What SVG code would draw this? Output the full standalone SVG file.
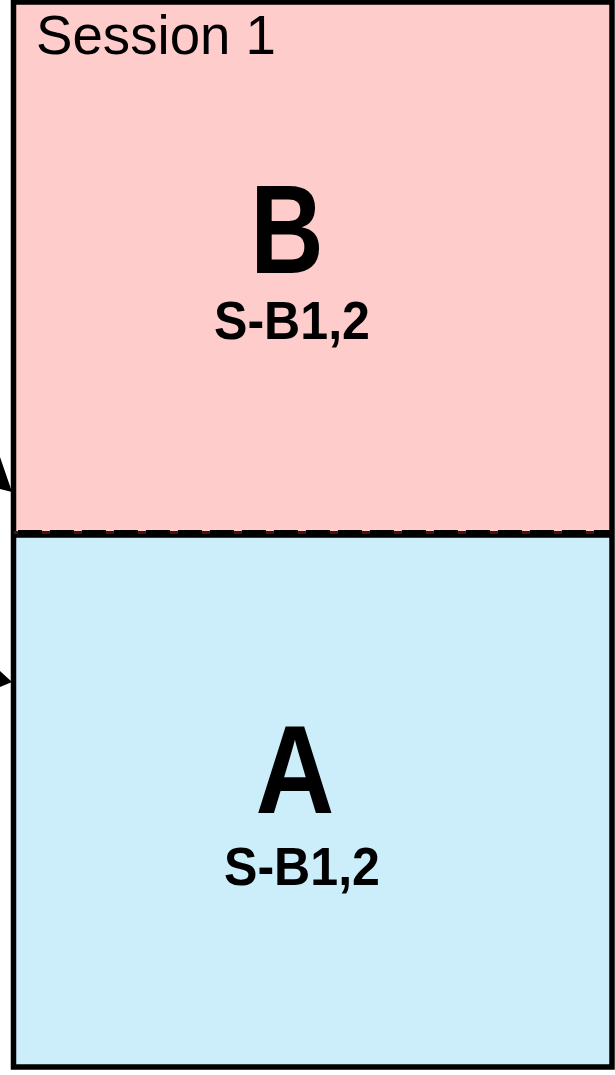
<svg xmlns="http://www.w3.org/2000/svg" width="615" height="1075" viewBox="0 0 615 1075">
<style>
.big{font-family:"Liberation Sans",Arial,sans-serif;font-weight:bold;font-size:127px;fill:#000}
.sub{font-family:"Liberation Sans",Arial,sans-serif;font-weight:bold;font-size:53px;fill:#000}
.lbl{font-family:"Liberation Sans",Arial,sans-serif;font-size:55px;fill:#000}
</style>
<rect width="615" height="1075" fill="#fff"/>
<g id="nodeB">
<rect x="13.5" y="2" width="598.5" height="532" fill="#FFCCCC"/>
<text class="big" transform="translate(287,273) scale(0.8,1)" text-anchor="middle">B</text>
<text class="sub" x="214" y="339" textLength="156" lengthAdjust="spacingAndGlyphs">S-B1,2</text>
</g>
<g id="nodeA">
<rect x="13.5" y="536" width="598.5" height="531" fill="#CCEEFA" stroke="#8a9aa0" stroke-width="1"/>
<text class="big" transform="translate(295,813) scale(0.86,1)" text-anchor="middle">A</text>
<text class="sub" x="224" y="885" textLength="156" lengthAdjust="spacingAndGlyphs">S-B1,2</text>
</g>
<g id="session">
<rect x="13.5" y="2" width="598.5" height="1065" fill="none" stroke="#000" stroke-width="5.5"/>
<text class="lbl" x="36" y="54" textLength="240" lengthAdjust="spacingAndGlyphs">Session 1</text>
</g>
<g id="divider">
<line x1="14" y1="535.5" x2="611" y2="535.5" stroke="#000" stroke-width="4.5"/>
<line x1="14" y1="532" x2="611" y2="532" stroke="#000" stroke-width="4" stroke-dasharray="24 8" stroke-dashoffset="-4"/>
<line x1="14" y1="532.5" x2="611" y2="532.5" stroke="#4a1010" stroke-width="3" stroke-dasharray="8 24" stroke-dashoffset="-28"/>
</g>
<g id="connectors">
<polygon points="0,457 12,492 0,489" fill="#000"/>
<polygon points="0,671 12,682 0,687" fill="#000"/>
</g>
</svg>
